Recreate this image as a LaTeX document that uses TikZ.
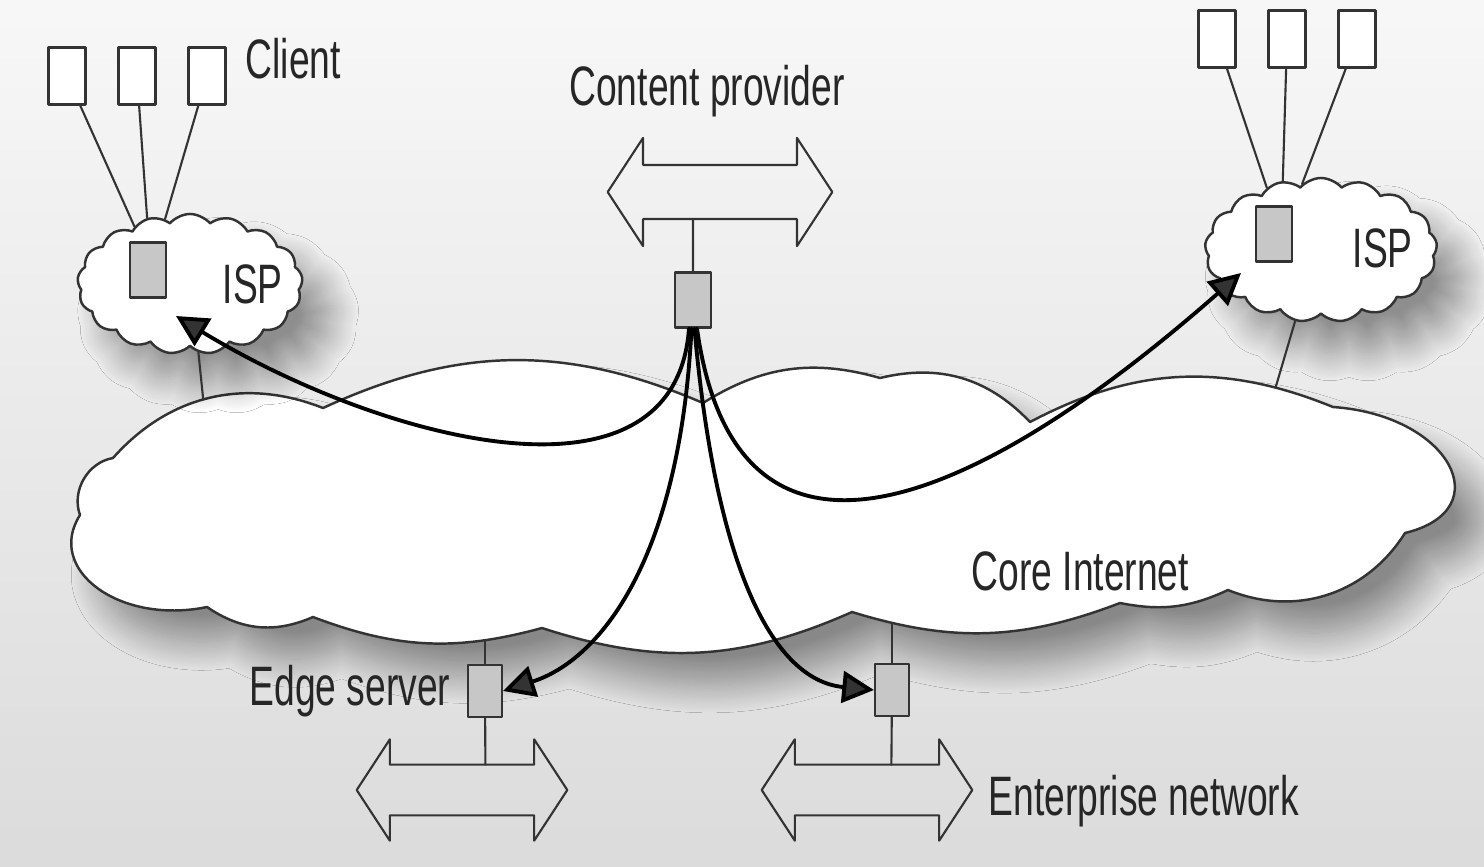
\documentclass[tikz,border=0pt]{standalone}
\usepackage{fontspec}
\setmainfont{Liberation Sans}[FakeStretch=0.67]
\usetikzlibrary{shapes.symbols,arrows.meta,shadows.blur}
\tikzset{
  ln/.style={draw=black!80,line width=0.6pt},
  lbl/.style={inner sep=0pt,text=black!85},
  host/.style={ln,fill=white,inner sep=0pt,minimum width=0.37cm,minimum height=0.57cm},
  srv/.style={ln,fill=black!22,inner sep=0pt,minimum width=0.36cm,minimum height=0.55cm},
  soft/.style={blur shadow={shadow xshift=8pt,shadow yshift=-9pt,shadow blur radius=8pt,shadow blur steps=24}},
  isp/.style={cloud,cloud puffs=17,cloud puff arc=100,cloud ignores aspect,draw=black!80,line width=0.7pt,fill=white,inner sep=0pt,soft},
  flow/.style={line width=1.1pt,-{Triangle[length=9pt,width=9pt]}},
  bus/.pic={
    \draw[ln] (-108,0) -- (-74,52) -- (-74,26) -- (74,26) -- (74,52) -- (108,0)
      -- (74,-52) -- (74,-26) -- (-74,-26) -- (-74,-52) -- cycle;
    \coordinate (-up) at (#1,26);
    \coordinate (-dn) at (#1,-26);
  }
}
\begin{document}
\begin{tikzpicture}[x=0.01cm,y=0.01cm,line join=round,line cap=round,font=\fontsize{15.8}{18}\selectfont]
% backdrop
\clip (0,0) rectangle (1484,-866);
\fill[top color=black!3,bottom color=black!14] (0,0) rectangle (1484,-866);
% core internet
\path[ln,line width=0.7pt,fill=white,soft] (80,-515) to[bend left=50] (113,-458)
  to[bend left=35] node[coordinate,pos=0.47] (lc) {} (323,-408)
  to[bend left=24] (703,-403) to[bend left=24] (880,-378) to[bend left=30] (1030,-422)
  to[bend left=25] node[coordinate,pos=0.82] (rc) {} (1333,-407)
  .. controls (1450,-415) and (1500,-510) .. (1405,-533)
  to[bend left=40] (1228,-590) to[bend left=18] (1120,-603)
  to[bend left=19] node[coordinate,pos=0.85] (nc) {} (852,-612)
  to[bend left=21] (542,-628)
  to[bend left=18] node[coordinate,pos=0.25] (ec) {} (313,-617)
  to[bend left=29] (207,-607)
  .. controls (120,-625) and (45,-570) .. (80,-515) -- cycle;
% ISPs
\node[isp,minimum width=2.25cm,minimum height=1.4cm] (lisp) at (190,-284) {};
\node[isp,minimum width=2.32cm,minimum height=1.44cm] (risp) at (1321,-250) {};
% clients
\foreach \i/\x/\a in {1/67/134,2/137/123,3/207/111}{
  \node[host] (cl\i) at (\x,-76) {};
  \draw[ln] (cl\i) -- (lisp.\a);
}
\foreach \i/\x/\a in {1/1217/131,2/1287/119,3/1357/106}{
  \node[host] (cr\i) at (\x,-39) {};
  \draw[ln] (cr\i) -- (risp.\a);
}
% servers
\node[srv] (lsv) at (148,-270) {};
\node[srv] (rsv) at (1274,-234) {};
\node[srv] (cp) at (693,-300) {};
\node[srv,minimum width=0.34cm,minimum height=0.52cm] (es) at (485,-691) {};
\node[srv,minimum width=0.34cm,minimum height=0.52cm] (en) at (892,-690) {};
% networks
\pic[scale=1.04] (cpb) at (720,-192) {bus=-26};
\pic[scale=0.975] (eb) at (462,-790) {bus=24};
\pic[scale=0.975] (nb) at (867,-790) {bus=25};
\draw[ln] (cpb-dn) -- (cp);
\draw[ln] (es) -- (eb-up);
\draw[ln] (en) -- (nb-up);
\draw[ln] (es |- ec) -- (es);
\draw[ln] (en |- nc) -- (en);
\draw[ln] (lisp.277) -- (lc);
\draw[ln] (risp.250) -- (rc);
% distribution
\coordinate (lt) at (176,-316);
\coordinate (rt) at (1241,-273);
\draw[flow] (cp.-98) .. controls (675,-520) and (380,-440) .. (lt);
\draw[flow] (cp.-82) .. controls (735,-600) and (960,-520) .. (rt);
\draw[flow] (cp.-93) .. controls (680,-560) and (600,-660) .. (es.east);
\draw[flow] (cp.-87) .. controls (715,-560) and (770,-680) .. (en.west);
% labels
\node[lbl,anchor=base west] (clientl) at (245,-78) {Client};
\node[lbl,anchor=base] (cpl) at (707,-105) {Content provider};
\node[lbl,anchor=base west] (lispl) at (222,-303) {ISP};
\node[lbl,anchor=base west] (rispl) at (1352,-267) {ISP};
\node[lbl,anchor=base west] (corel) at (971,-590) {Core Internet};
\node[lbl,anchor=base east] (esl) at (451,-705) {Edge server};
\node[lbl,anchor=base west] (enl) at (988,-815) {Enterprise network};
\end{tikzpicture}
\end{document}
